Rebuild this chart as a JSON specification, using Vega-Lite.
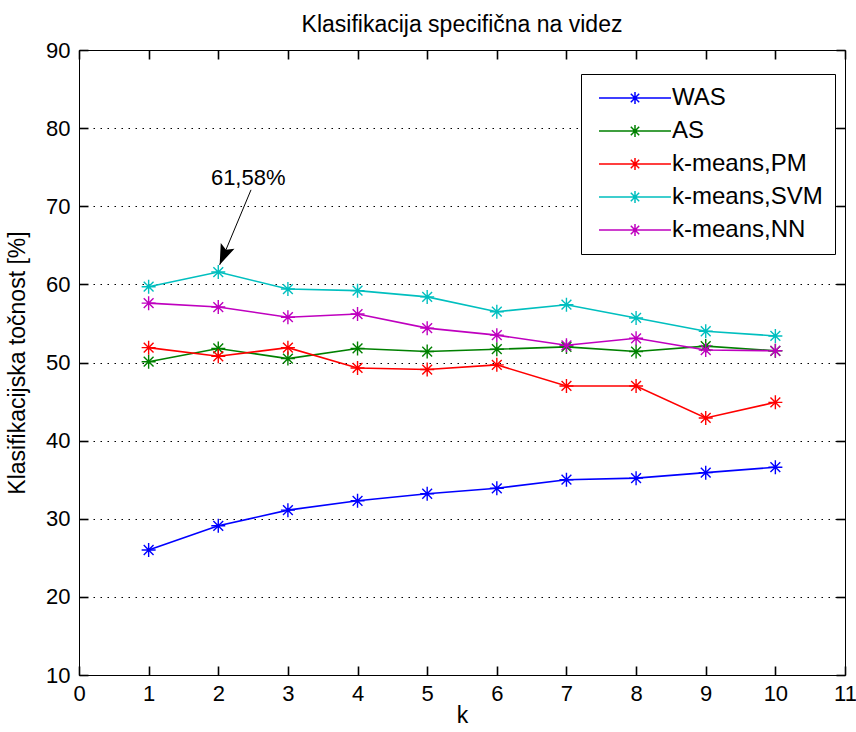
{
  "$schema": "https://vega.github.io/schema/vega-lite/v6.json",
  "width": 766,
  "height": 625,
  "autosize": {"type": "none"},
  "padding": {"left": 79, "top": 50, "right": 11, "bottom": 57},
  "background": "white",
  "title": {"text": "Klasifikacija specifična na videz", "fontSize": 23, "font": "Liberation Sans", "fontWeight": "normal", "color": "black", "offset": 2, "anchor": "middle"},
  "config": {
    "view": {"stroke": "black", "strokeWidth": 1},
    "axis": {"labelFont": "Liberation Sans", "titleFont": "Liberation Sans", "labelFontSize": 22, "titleFontSize": 23, "labelColor": "black", "titleColor": "black", "titleFontWeight": "normal", "domainColor": "black", "labelFlush": false, "labelOverlap": false}
  },
  "datasets": {
    "main": [
      {"k": 1, "value": 26.0, "series": "WAS"},
      {"k": 2, "value": 29.1, "series": "WAS"},
      {"k": 3, "value": 31.1, "series": "WAS"},
      {"k": 4, "value": 32.3, "series": "WAS"},
      {"k": 5, "value": 33.2, "series": "WAS"},
      {"k": 6, "value": 33.9, "series": "WAS"},
      {"k": 7, "value": 35.0, "series": "WAS"},
      {"k": 8, "value": 35.2, "series": "WAS"},
      {"k": 9, "value": 35.9, "series": "WAS"},
      {"k": 10, "value": 36.6, "series": "WAS"},
      {"k": 1, "value": 50.1, "series": "AS"},
      {"k": 2, "value": 51.8, "series": "AS"},
      {"k": 3, "value": 50.5, "series": "AS"},
      {"k": 4, "value": 51.8, "series": "AS"},
      {"k": 5, "value": 51.4, "series": "AS"},
      {"k": 6, "value": 51.7, "series": "AS"},
      {"k": 7, "value": 52.0, "series": "AS"},
      {"k": 8, "value": 51.4, "series": "AS"},
      {"k": 9, "value": 52.1, "series": "AS"},
      {"k": 10, "value": 51.5, "series": "AS"},
      {"k": 1, "value": 51.9, "series": "k-means,PM"},
      {"k": 2, "value": 50.8, "series": "k-means,PM"},
      {"k": 3, "value": 51.9, "series": "k-means,PM"},
      {"k": 4, "value": 49.3, "series": "k-means,PM"},
      {"k": 5, "value": 49.1, "series": "k-means,PM"},
      {"k": 6, "value": 49.7, "series": "k-means,PM"},
      {"k": 7, "value": 47.0, "series": "k-means,PM"},
      {"k": 8, "value": 47.0, "series": "k-means,PM"},
      {"k": 9, "value": 42.9, "series": "k-means,PM"},
      {"k": 10, "value": 44.9, "series": "k-means,PM"},
      {"k": 1, "value": 59.7, "series": "k-means,SVM"},
      {"k": 2, "value": 61.58, "series": "k-means,SVM"},
      {"k": 3, "value": 59.4, "series": "k-means,SVM"},
      {"k": 4, "value": 59.2, "series": "k-means,SVM"},
      {"k": 5, "value": 58.4, "series": "k-means,SVM"},
      {"k": 6, "value": 56.5, "series": "k-means,SVM"},
      {"k": 7, "value": 57.4, "series": "k-means,SVM"},
      {"k": 8, "value": 55.7, "series": "k-means,SVM"},
      {"k": 9, "value": 54.0, "series": "k-means,SVM"},
      {"k": 10, "value": 53.4, "series": "k-means,SVM"},
      {"k": 1, "value": 57.6, "series": "k-means,NN"},
      {"k": 2, "value": 57.1, "series": "k-means,NN"},
      {"k": 3, "value": 55.8, "series": "k-means,NN"},
      {"k": 4, "value": 56.2, "series": "k-means,NN"},
      {"k": 5, "value": 54.4, "series": "k-means,NN"},
      {"k": 6, "value": 53.5, "series": "k-means,NN"},
      {"k": 7, "value": 52.2, "series": "k-means,NN"},
      {"k": 8, "value": 53.1, "series": "k-means,NN"},
      {"k": 9, "value": 51.6, "series": "k-means,NN"},
      {"k": 10, "value": 51.5, "series": "k-means,NN"}
    ],
    "note": [{"x": 2.43, "y": 72.7, "label": "61,58%"}],
    "arrow": [{"x": 2.47, "y": 72.1, "x2": 2.02, "y2": 62.5}]
  },
  "layer": [
    {
      "data": {"name": "main"},
      "mark": {"type": "line", "strokeWidth": 1.6},
      "encoding": {
        "x": {"field": "k", "type": "quantitative", "scale": {"domain": [0, 11], "nice": false, "zero": false},
              "axis": {"orient": "bottom", "values": [0,1,2,3,4,5,6,7,8,9,10,11], "grid": false, "ticks": false, "domain": false, "title": "k", "labelPadding": 8, "titlePadding": 0}},
        "y": {"field": "value", "type": "quantitative", "scale": {"domain": [10, 90], "nice": false, "zero": false},
              "axis": {"orient": "left", "values": [10,20,30,40,50,60,70,80,90], "grid": true, "gridDash": [1.5, 5.5], "gridColor": "black", "gridOpacity": 1, "ticks": false, "domain": false, "title": "Klasifikacijska točnost [%]", "labelPadding": 9, "titlePadding": 16}},
        "color": {"field": "series", "type": "nominal",
                  "scale": {"domain": ["WAS", "AS", "k-means,PM", "k-means,SVM", "k-means,NN"], "range": ["#0000FF", "#008000", "#FF0000", "#00BFBF", "#BF00BF"]},
                  "legend": {"orient": "none", "legendX": 502, "legendY": 24, "title": null, "strokeColor": "black", "fillColor": "white", "padding": 12,
                             "symbolType": "M-6,0L6,0M0,-1L0,1M-1,0L1,0M-0.7,-0.7L0.7,0.7M-0.7,0.7L0.7,-0.7", "symbolSize": 144, "symbolStrokeWidth": 1.5, "symbolFillColor": "transparent",
                             "symbolOffset": 30, "labelOffset": 25, "labelFontSize": 24, "labelFont": "Liberation Sans", "labelColor": "black", "rowPadding": 9}}
      }
    },
    {
      "data": {"name": "main"},
      "mark": {"type": "point", "shape": "M0,-1L0,1M-1,0L1,0M-0.7,-0.7L0.7,0.7M-0.7,0.7L0.7,-0.7", "filled": false, "size": 196, "strokeWidth": 1.4, "opacity": 1},
      "encoding": {
        "x": {"field": "k", "type": "quantitative", "scale": {"domain": [0, 11], "nice": false, "zero": false},
              "axis": {"orient": "top", "offset": -625, "values": [0,1,2,3,4,5,6,7,8,9,10,11], "labels": false, "domain": false, "grid": false, "ticks": true, "tickSize": 9, "tickColor": "#000000", "tickWidth": 1.6, "tickOpacity": 1, "title": null}},
        "y": {"field": "value", "type": "quantitative", "scale": {"domain": [10, 90], "nice": false, "zero": false}, "axis": null},
        "color": {"field": "series", "type": "nominal", "scale": {"domain": ["WAS", "AS", "k-means,PM", "k-means,SVM", "k-means,NN"], "range": ["#0000FF", "#008000", "#FF0000", "#00BFBF", "#BF00BF"]}}
      }
    },
    {
      "data": {"name": "note"},
      "mark": {"type": "text", "font": "Liberation Sans", "fontSize": 22, "color": "black", "baseline": "alphabetic", "align": "center"},
      "encoding": {
        "x": {"field": "x", "type": "quantitative", "scale": {"domain": [0, 11], "nice": false, "zero": false},
              "axis": {"orient": "bottom", "offset": -625, "values": [0,1,2,3,4,5,6,7,8,9,10,11], "labels": false, "domain": false, "grid": false, "ticks": true, "tickSize": 9, "tickColor": "#000000", "tickWidth": 1.6, "tickOpacity": 1, "title": null}},
        "y": {"field": "y", "type": "quantitative", "scale": {"domain": [10, 90], "nice": false, "zero": false}, "axis": null},
        "text": {"field": "label"}
      }
    },
    {
      "data": {"name": "arrow"},
      "mark": {"type": "rule", "color": "black", "strokeWidth": 1},
      "encoding": {
        "x": {"field": "x", "type": "quantitative", "scale": {"domain": [0, 11], "nice": false, "zero": false}, "axis": null},
        "y": {"field": "y", "type": "quantitative", "scale": {"domain": [10, 90], "nice": false, "zero": false},
              "axis": {"orient": "left", "values": [10,20,30,40,50,60,70,80,90], "labels": false, "domain": false, "grid": false, "ticks": true, "tickSize": -9, "tickColor": "#000000", "tickWidth": 1.6, "tickOpacity": 1, "title": null}},
        "x2": {"field": "x2"},
        "y2": {"field": "y2"}
      }
    },
    {
      "data": {"name": "arrow"},
      "mark": {"type": "point", "shape": "M0,0L-0.36,1L0,0.8L0.36,1Z", "filled": true, "color": "black", "size": 1700, "angle": 202.7, "opacity": 1},
      "encoding": {
        "x": {"field": "x2", "type": "quantitative", "scale": {"domain": [0, 11], "nice": false, "zero": false}, "axis": null},
        "y": {"field": "y2", "type": "quantitative", "scale": {"domain": [10, 90], "nice": false, "zero": false},
              "axis": {"orient": "right", "values": [10,20,30,40,50,60,70,80,90], "labels": false, "domain": false, "grid": false, "ticks": true, "tickSize": -9, "tickColor": "#000000", "tickWidth": 1.6, "tickOpacity": 1, "title": null}}
      }
    }
  ],
  "resolve": {"axis": {"x": "independent", "y": "independent"}}
}
